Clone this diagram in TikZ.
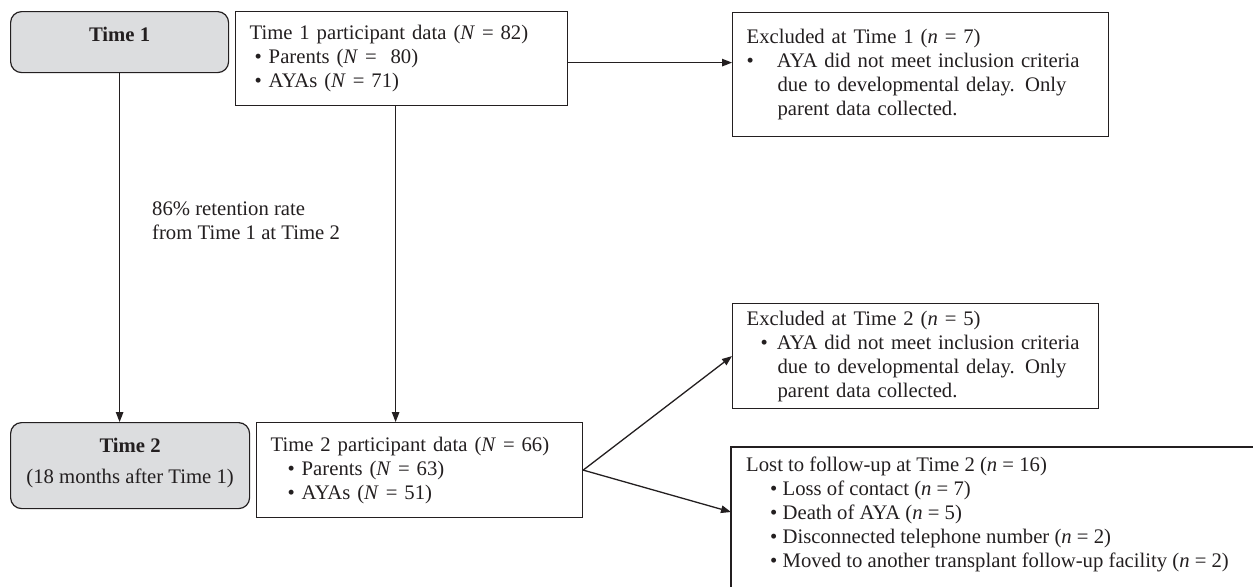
\documentclass[tikz,border=0pt]{standalone}
\usepackage{fontspec}
\setmainfont{Liberation Serif}
\usetikzlibrary{arrows.meta,calc}
\definecolor{boxgray}{HTML}{DCDDDF}
\definecolor{ink}{HTML}{231F20}
\begin{document}
\begin{tikzpicture}[x=1pt,y=-1pt,
  every node/.style={font=\fontsize{20.7}{24}\selectfont, text=ink},
  timebox/.style={draw=ink, line width=1.2pt, rounded corners=11pt, fill=boxgray, inner sep=0pt, anchor=north west},
  databox/.style={draw=ink, line width=1.2pt, inner ysep=0pt, anchor=north west, align=left},
  conn/.style={draw=ink, line width=1.3pt},
  arr/.style={conn, -{Triangle[length=10pt,width=7.5pt]}},
]
\useasboundingbox (0,0) rectangle (1253,587);

% Time boxes
\node[timebox, minimum width=218pt, minimum height=61pt] (t1) at (10,11) {};
\node[font=\fontsize{20.7}{24}\selectfont\bfseries] (t1lab) at ($(t1.north)+(0,23)$) {Time 1};

\node[timebox, minimum width=239pt, minimum height=86pt] (t2) at (10,422) {};
\node[font=\fontsize{20.7}{24}\selectfont\bfseries] (t2lab) at ($(t2.north)+(0,23)$) {Time 2};
\node (t2sub) at ($(t2.north)+(0,56)$) {(18 months after Time 1)};

% Data boxes
\node[databox, inner xsep=14pt, text width=304pt, minimum height=94pt] (p1) at (235,11)
  {Time 1 participant data (\textit{N} = 82)\\
   \hspace*{5pt}\textbullet\ Parents (\textit{N} = \ 80)\\
   \hspace*{5pt}\textbullet\ AYAs (\textit{N} = 71)};

\node[databox, inner xsep=14pt, text width=298pt, minimum height=95pt] (p2) at (256,422)
  {Time 2 participant data (\textit{N} = 66)\\
   \hspace*{17pt}\textbullet\ Parents (\textit{N} = 63)\\
   \hspace*{17pt}\textbullet\ AYAs (\textit{N} = 51)};

\node[databox, inner xsep=14pt, text width=348pt, minimum height=124pt] (ex1) at (732,12)
  {Excluded at Time 1 (\textit{n} = 7)\\
   \hspace*{0pt}\textbullet\hspace*{23pt}AYA did not meet inclusion criteria\\
   \hspace*{31pt}due to developmental delay. Only\\
   \hspace*{31pt}parent data collected.};

\node[databox, inner xsep=14pt, text width=338pt, minimum height=105pt] (ex2) at (732,303)
  {Excluded at Time 2 (\textit{n} = 5)\\
   \hspace*{14pt}\textbullet\hspace*{9pt}AYA did not meet inclusion criteria\\
   \hspace*{31pt}due to developmental delay. Only\\
   \hspace*{31pt}parent data collected.};

% Lost to follow-up (open box)
\coordinate (lostnw) at (731,447);
\coordinate (lostne) at (1253,447);
\coordinate (lostsw) at (731,587);
\coordinate (lostin) at (731,512);
\draw[conn, line width=1.2pt] (lostne) -- (lostnw) -- (lostsw);
\node[anchor=north west, align=left, inner sep=0pt] (lost) at (746,457)
  {Lost to follow-up at Time 2 (\textit{n} = 16)\\
   \hspace*{24pt}\textbullet\ Loss of contact (\textit{n} = 7)\\
   \hspace*{24pt}\textbullet\ Death of AYA (\textit{n} = 5)\\
   \hspace*{24pt}\textbullet\ Disconnected telephone number (\textit{n} = 2)\\
   \hspace*{24pt}\textbullet\ Moved to another transplant follow-up facility (\textit{n} = 2)};

% Retention label
\node[anchor=west, align=left, inner sep=0pt] (ret) at (152,221)
  {86\% retention rate\\from Time 1 at Time 2};

% Connectors
\draw[arr] (t1.south) -- (t2.north -| t1.south);
\draw[arr] ([xshift=-6pt]p1.south) -- ([xshift=-6pt]p1.south |- p2.north);
\draw[arr] ([yshift=-4pt]p1.east) -- ([yshift=-4pt]p1.east -| ex1.west);
\draw[arr] (p2.east) -- (ex2.west);
\draw[arr] (p2.east) -- (lostin);
\end{tikzpicture}
\end{document}
